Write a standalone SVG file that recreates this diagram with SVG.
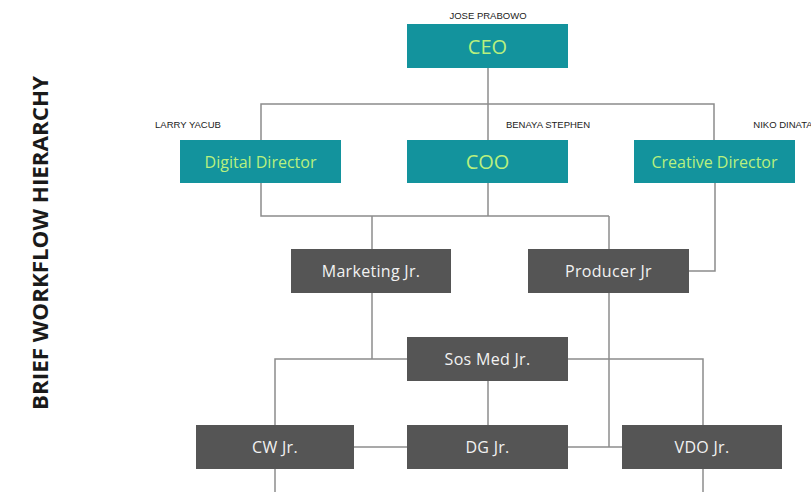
<svg xmlns="http://www.w3.org/2000/svg" width="811" height="492" viewBox="0 0 811 492">
<style>
.teal{fill:#13939d}
.grey{fill:#555555}
.tl{font-family:"Open Sans","Liberation Sans",sans-serif;font-size:16px;fill:#b9f07e;text-anchor:middle;dominant-baseline:central}
.tl.big{font-size:20px}
.gl{font-family:"Open Sans","Liberation Sans",sans-serif;font-size:16px;fill:#f2f2f2;text-anchor:middle;dominant-baseline:central;letter-spacing:0.3px}
.nm{font-family:"Liberation Sans",Arial,sans-serif;font-size:9.5px;fill:#222;text-anchor:middle}
.ln{stroke:#8c8c8c;stroke-width:1.5;fill:none}
.title{font-family:"Open Sans","Liberation Sans",sans-serif;font-weight:bold;font-size:22px;fill:#1a1a1a;text-anchor:middle}
</style>
<rect width="811" height="492" fill="#ffffff"/>
<text class="title" transform="translate(48,243) rotate(-90)" textLength="334" lengthAdjust="spacingAndGlyphs">BRIEF WORKFLOW HIERARCHY</text>
<g id="connectors">
<polyline class="ln" points="488,68 488,141"/>
<polyline class="ln" points="261,141 261,104 714,104 714,141"/>
<polyline class="ln" points="261,183 261,216 609,216"/>
<polyline class="ln" points="488,183 488,216"/>
<polyline class="ln" points="372,216 372,249"/>
<polyline class="ln" points="609,216 609,249"/>
<polyline class="ln" points="715,183 715,271 689,271"/>
<polyline class="ln" points="372,293 372,359"/>
<polyline class="ln" points="609,293 609,447"/>
<polyline class="ln" points="407,359 275,359 275,425"/>
<polyline class="ln" points="568,359 703,359 703,425"/>
<polyline class="ln" points="488,381 488,425"/>
<polyline class="ln" points="354,447 407,447"/>
<polyline class="ln" points="568,447 622,447"/>
<polyline class="ln" points="275,469 275,492"/>
<polyline class="ln" points="703,469 703,492"/>
</g>
<g id="ceo">
<text class="nm" x="488" y="18.5">JOSE PRABOWO</text>
<rect class="teal" x="407" y="24" width="161" height="44"/>
<text class="tl big" x="487.5" y="46">CEO</text>
</g>
<g id="digital-director">
<text class="nm" x="188" y="127.5">LARRY YACUB</text>
<rect class="teal" x="180" y="140" width="161" height="43"/>
<text class="tl" x="260.5" y="161.5">Digital Director</text>
</g>
<g id="coo">
<text class="nm" x="548" y="127.5">BENAYA STEPHEN</text>
<rect class="teal" x="407" y="140" width="161" height="43"/>
<text class="tl big" x="487.5" y="161.5">COO</text>
</g>
<g id="creative-director">
<text class="nm" x="783" y="127.5">NIKO DINATA</text>
<rect class="teal" x="634" y="140" width="161" height="43"/>
<text class="tl" x="714.5" y="161.5">Creative Director</text>
</g>
<g id="marketing-jr">
<rect class="grey" x="291" y="249" width="160" height="44"/>
<text class="gl" x="371" y="271">Marketing Jr.</text>
</g>
<g id="producer-jr">
<rect class="grey" x="528" y="249" width="161" height="44"/>
<text class="gl" x="608.5" y="271">Producer Jr</text>
</g>
<g id="sos-med-jr">
<rect class="grey" x="407" y="337" width="161" height="44"/>
<text class="gl" x="487.5" y="359">Sos Med Jr.</text>
</g>
<g id="cw-jr">
<rect class="grey" x="196" y="425" width="158" height="44"/>
<text class="gl" x="275" y="447">CW Jr.</text>
</g>
<g id="dg-jr">
<rect class="grey" x="407" y="425" width="161" height="44"/>
<text class="gl" x="487.5" y="447">DG Jr.</text>
</g>
<g id="vdo-jr">
<rect class="grey" x="622" y="425" width="160" height="44"/>
<text class="gl" x="702" y="447">VDO Jr.</text>
</g>
</svg>
